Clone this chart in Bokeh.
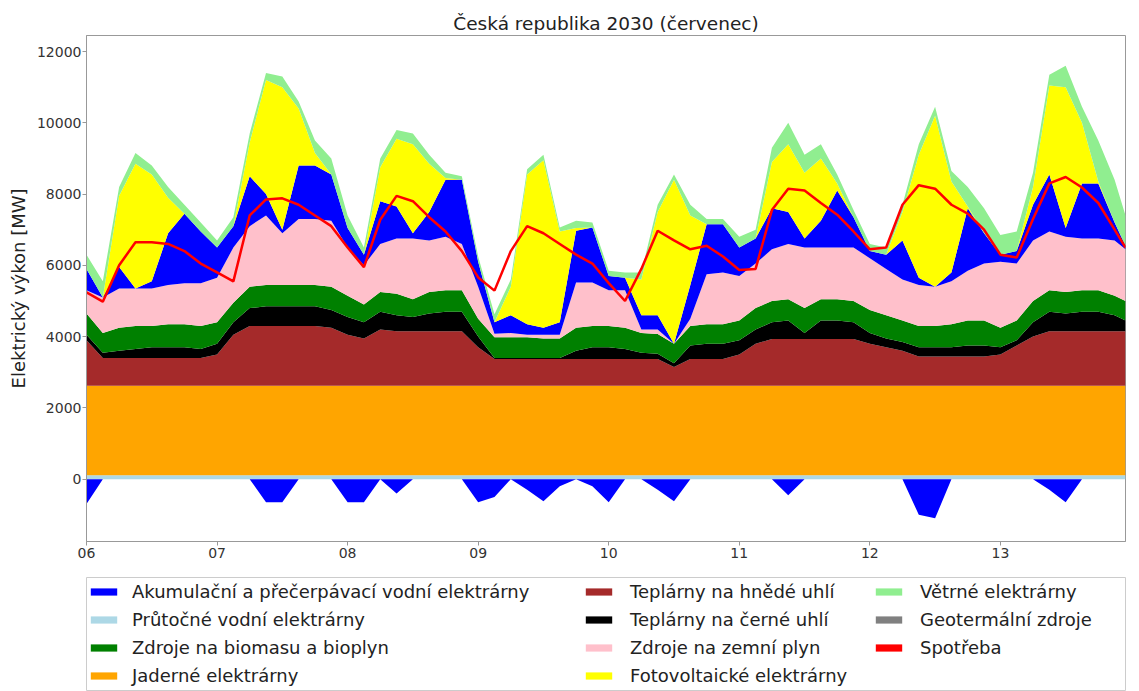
from bokeh.plotting import figure
from bokeh.layouts import column
from bokeh.models import ColumnDataSource, Legend, LegendItem, FixedTicker, Range1d
from bokeh.embed import file_html
from bokeh.resources import INLINE

FONT = "DejaVu Sans"

# hours since 6 July 00:00 (3-hour samples)
hours = [0, 3, 6, 9, 12, 15, 18, 21,
         24, 27, 30, 33, 36, 39, 42, 45,
         48, 51, 54, 57, 60, 63, 66, 69,
         72, 75, 78, 81, 84, 87, 90, 93,
         96, 99, 102, 105, 108, 111, 114, 117,
         120, 123, 126, 129, 132, 135, 138, 141,
         144, 147, 150, 153, 156, 159, 162, 165,
         168, 171, 174, 177, 180, 183, 186, 189,
         191]

day_ticks = [0, 24, 48, 72, 96, 120, 144, 168]
day_labels = ["06", "07", "08", "09", "10", "11", "12", "13"]
y_ticks = [0, 2000, 4000, 6000, 8000, 10000, 12000]

# MW values per source
ror = [110, 110, 110, 110, 110, 110, 110, 110,
       110, 110, 110, 110, 110, 110, 110, 110,
       110, 110, 110, 110, 110, 110, 110, 110,
       110, 110, 110, 110, 110, 110, 110, 110,
       110, 110, 110, 110, 110, 110, 110, 110,
       110, 110, 110, 110, 110, 110, 110, 110,
       110, 110, 110, 110, 110, 110, 110, 110,
       110, 110, 110, 110, 110, 110, 110, 110,
       110]
nuclear = [2510, 2510, 2510, 2510, 2510, 2510, 2510, 2510,
           2510, 2510, 2510, 2510, 2510, 2510, 2510, 2510,
           2510, 2510, 2510, 2510, 2510, 2510, 2510, 2510,
           2510, 2510, 2510, 2510, 2510, 2510, 2510, 2510,
           2510, 2510, 2510, 2510, 2510, 2510, 2510, 2510,
           2510, 2510, 2510, 2510, 2510, 2510, 2510, 2510,
           2510, 2510, 2510, 2510, 2510, 2510, 2510, 2510,
           2510, 2510, 2510, 2510, 2510, 2510, 2510, 2510,
           2510]
lignite = [1280, 780, 780, 780, 780, 780, 780, 780,
           880, 1430, 1680, 1680, 1680, 1680, 1680, 1630,
           1430, 1330, 1580, 1530, 1530, 1530, 1530, 1530,
           1080, 750, 750, 750, 750, 750, 750, 750,
           750, 750, 750, 750, 530, 750, 750, 750,
           880, 1180, 1310, 1310, 1310, 1310, 1310, 1310,
           1180, 1080, 980, 820, 820, 820, 820, 820,
           880, 1130, 1380, 1530, 1530, 1530, 1530, 1530,
           1530]
hardcoal = [150, 150, 200, 250, 300, 300, 300, 250,
            300, 350, 500, 550, 550, 550, 550, 500,
            500, 450, 500, 450, 400, 500, 550, 550,
            300, 30, 30, 30, 30, 30, 230, 330,
            330, 280, 180, 150, 100, 380, 430, 430,
            400, 400, 470, 520, 170, 520, 520, 470,
            300, 250, 250, 260, 260, 260, 310, 310,
            200, 150, 400, 550, 500, 550, 550, 450,
            300]
biomass = [600, 550, 650, 650, 600, 650, 650, 650,
           600, 550, 600, 600, 600, 600, 600, 650,
           600, 500, 550, 600, 500, 600, 600, 600,
           500, 580, 580, 580, 550, 550, 650, 600,
           600, 600, 550, 550, 550, 550, 550, 550,
           550, 600, 600, 600, 700, 600, 600, 600,
           650, 650, 600, 600, 600, 650, 700, 700,
           550, 550, 600, 600, 600, 600, 600, 550,
           550]
gas = [650, 1000, 1100, 1050, 1050, 1100, 1150, 1200,
       1250, 1550, 1700, 1950, 1450, 1850, 1850, 1850,
       1350, 1100, 1350, 1550, 1700, 1450, 1500, 1300,
       900, 100, 120, 70, 100, 100, 1270, 1220,
       1000, 1050, 100, 130, 0, 200, 1400, 1450,
       1250, 1250, 1450, 1550, 1700, 1450, 1450, 1500,
       1450, 1300, 1150, 1150, 1100, 1200, 1400, 1600,
       1850, 1600, 1700, 1650, 1550, 1450, 1450, 1550,
       1450]
pumped = [600, 0, 600, 0, 200, 1450, 1950, 1450,
          850, 600, 1400, 600, 100, 1500, 1500, 1300,
          550, 300, 1200, 900, 150, 800, 1600, 1800,
          700, 320, 500, 300, 200, 350, 1450, 1540,
          400, 350, 400, 400, 0, 950, 1400, 1350,
          800, 700, 1150, 900, 250, 750, 1600, 850,
          200, 400, 1100, 200, 0, 250, 1750, 850,
          200, 350, 1000, 1600, 250, 1550, 1550, 500,
          100]
pv = [0, 0, 2000, 3500, 3000, 1000, 0, 0,
      0, 0, 950, 3200, 4000, 1600, 350, 0,
      0, 0, 950, 1900, 2500, 1350, 50, 0,
      0, 0, 800, 4200, 4700, 2550, 80, 0,
      0, 0, 1000, 2900, 4600, 1950, 0, 0,
      0, 0, 1300, 1900, 1850, 1750, 200, 0,
      0, 0, 800, 3450, 4800, 2550, 50, 0,
      0, 0, 500, 2500, 3950, 1700, 50, 0,
      0]
wind = [400, 450, 250, 300, 250, 300, 250, 250,
        200, 250, 250, 200, 300, 200, 350, 450,
        350, 200, 250, 250, 300, 250, 150, 100,
        150, 230, 200, 150, 150, 110, 200, 140,
        150, 150, 200, 200, 150, 300, 150, 150,
        300, 250, 400, 600, 500, 400, 250, 200,
        200, 200, 200, 300, 250, 300, 550, 700,
        550, 550, 400, 300, 600, 450, 1150, 1200,
        850]
geothermal = [0, 0, 0, 0, 0, 0, 0, 0,
              0, 0, 0, 0, 0, 0, 0, 0,
              0, 0, 0, 0, 0, 0, 0, 0,
              0, 0, 0, 0, 0, 0, 0, 0,
              0, 0, 0, 0, 0, 0, 0, 0,
              0, 0, 0, 0, 0, 0, 0, 0,
              0, 0, 0, 0, 0, 0, 0, 0,
              0, 0, 0, 0, 0, 0, 0, 0,
              0]
pump_neg = [-700, 0, 0, 0, 0, 0, 0, 0,
            0, 0, 0, -650, -650, 0, 0, 0,
            -650, -650, 0, -400, 0, 0, 0, 0,
            -650, -500, 0, -300, -620, -200, 0, -200,
            -650, 0, 0, -300, -620, 0, 0, 0,
            0, 0, 0, -450, 0, 0, 0, 0,
            0, 0, 0, -1000, -1100, 0, 0, 0,
            0, 0, 0, -300, -650, 0, 0, 0,
            0]
demand = [5240, 4980, 6000, 6650, 6650, 6600, 6400, 6050,
          5800, 5550, 7400, 7850, 7880, 7700, 7400, 7100,
          6500, 5950, 7280, 7950, 7800, 7350, 6950, 6400,
          5660, 5290, 6400, 7100, 6900, 6600, 6300, 6050,
          5500, 5000, 5900, 6970, 6700, 6450, 6550, 6250,
          5870, 5900, 7550, 8150, 8100, 7750, 7420, 6950,
          6450, 6500, 7700, 8250, 8150, 7700, 7450, 7000,
          6300, 6220, 7300, 8300, 8480, 8185, 7750, 7000,
          6500]

# legend: (label, colour), in three columns
legend_cols = [
    [("Akumulační a přečerpávací vodní elektrárny", "#0000ff"),
     ("Průtočné vodní elektrárny", "#add8e6"),
     ("Zdroje na biomasu a bioplyn", "#008000"),
     ("Jaderné elektrárny", "#ffa500")],
    [("Teplárny na hnědé uhlí", "#a52a2a"),
     ("Teplárny na černé uhlí", "#000000"),
     ("Zdroje na zemní plyn", "#ffc0cb"),
     ("Fotovoltaické elektrárny", "#ffff00")],
    [("Větrné elektrárny", "#90ee90"),
     ("Geotermální zdroje", "#808080"),
     ("Spotřeba", "#ff0000")],
]

src = ColumnDataSource(dict(hours=hours, ror=ror, nuclear=nuclear, lignite=lignite,
                            hardcoal=hardcoal, biomass=biomass, gas=gas, pumped=pumped,
                            pv=pv, wind=wind, geothermal=geothermal,
                            pump_neg=pump_neg, demand=demand))

p = figure(width=1139, height=576,
           min_border_left=86, min_border_right=14, min_border_top=35, min_border_bottom=35,
           x_range=Range1d(0, 191), y_range=Range1d(-1750, 12450),
           output_backend="svg", toolbar_location=None,
           title="Česká republika 2030 (červenec)")

stack_names = ["ror", "nuclear", "lignite", "hardcoal", "biomass", "gas",
               "pumped", "pv", "wind", "geothermal"]
stack_colors = ["#add8e6", "#ffa500", "#a52a2a", "#000000", "#008000", "#ffc0cb",
                "#0000ff", "#ffff00", "#90ee90", "#808080"]
p.varea_stack(stackers=stack_names, x="hours", color=stack_colors, source=src)
p.varea(x="hours", y1=0, y2="pump_neg", color="#0000ff", source=src)
p.line(x="hours", y="demand", color="#ff0000", line_width=2.5, source=src)

p.title.text_font = FONT
p.title.text_font_size = "18.5px"
p.title.text_font_style = "normal"
p.title.text_color = "#222222"
p.title.align = "center"
p.title.standoff = 3

p.xgrid.visible = False
p.ygrid.visible = False
p.outline_line_color = "#999999"

p.xaxis.ticker = FixedTicker(ticks=day_ticks)
p.xaxis.major_label_overrides = dict(zip(day_ticks, day_labels))
p.xaxis.major_label_standoff = 2
p.yaxis.ticker = FixedTicker(ticks=y_ticks)
p.yaxis.major_label_standoff = 1
p.yaxis.axis_label = "Elektrický výkon [MW]"
p.yaxis.axis_label_text_font = FONT
p.yaxis.axis_label_text_font_size = "18px"
p.yaxis.axis_label_text_font_style = "normal"
p.yaxis.axis_label_text_color = "#222222"
p.yaxis.axis_label_standoff = 5
for ax in (p.xaxis[0], p.yaxis[0]):
    ax.major_label_text_font = FONT
    ax.major_label_text_font_size = "14px"
    ax.major_label_text_color = "#333333"
    ax.axis_line_color = "#999999"
    ax.major_tick_line_color = "#999999"
    ax.major_tick_in = 0
    ax.major_tick_out = 4
    ax.minor_tick_line_color = None

# legend panel below the chart, framed like the original legend box
lf = figure(width=1139, height=115, min_border_left=73, min_border_right=9,
            min_border_top=1, min_border_bottom=0,
            x_range=Range1d(0, 1), y_range=Range1d(0, 1),
            x_axis_type=None, y_axis_type=None,
            output_backend="svg", toolbar_location=None)
lf.xgrid.visible = False
lf.ygrid.visible = False
lf.outline_line_color = "#cccccc"

col_x = [1, 496, 786]
col_y = [5, 5, 33]
col_standoff = [12, 15, 15]
for entries, cx, cy, so in zip(legend_cols, col_x, col_y, col_standoff):
    its = []
    for label, colour in entries:
        # zero-height area, used only for its legend swatch
        rr = lf.varea(x="hours", y1=0, y2=0, color=colour, source=src)
        its.append(LegendItem(label=label, renderers=[rr]))
    lg = Legend(items=its, orientation="vertical", location=(cx, cy),
                label_text_font=FONT, label_text_font_size="18px", label_text_color="#222222",
                glyph_width=33, glyph_height=9, label_standoff=so, spacing=7,
                padding=0, margin=0, border_line_alpha=0, background_fill_alpha=0)
    lf.add_layout(lg, "center")

open("out.html", "w").write(file_html(column(p, lf), INLINE))
